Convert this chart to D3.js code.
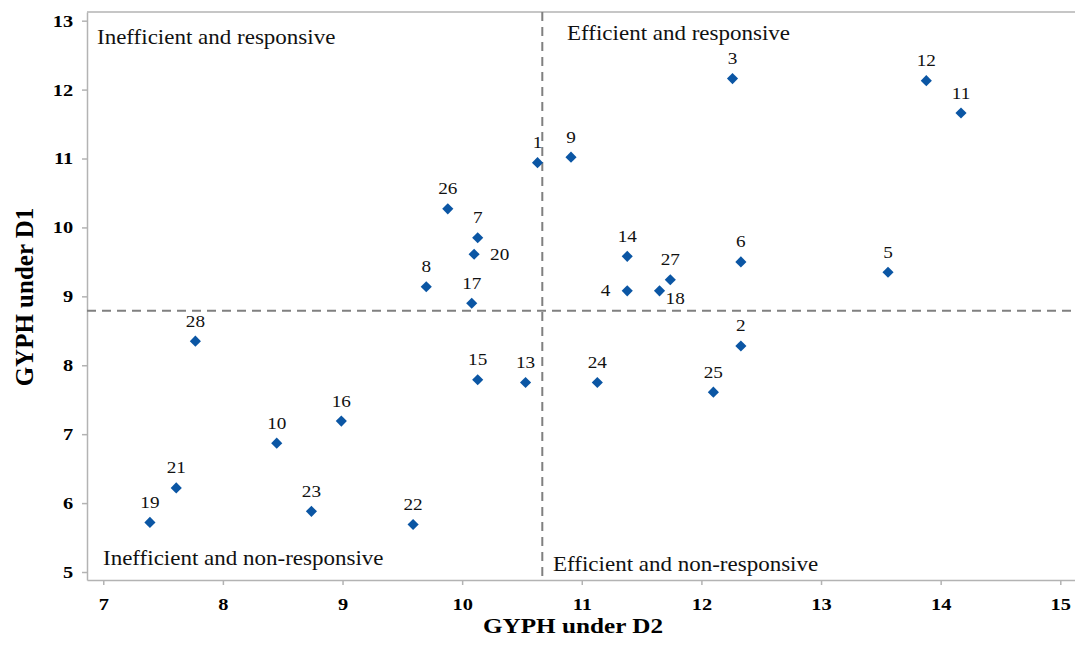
<!DOCTYPE html>
<html>
<head>
<meta charset="utf-8">
<script src="https://cdn.jsdelivr.net/npm/d3@7"></script>
<style>
  body { margin: 0; background: #fff; }
  svg { display: block; }
  .axis path, .axis line { stroke: #b3b3b3; stroke-width: 1.5; }
  .axis text { font-family: "Liberation Serif", "Times New Roman", serif; font-weight: bold; font-size: 17px; fill: #000; }
  .title { font-family: "Liberation Serif", "Times New Roman", serif; font-weight: bold; fill: #000; }
  .quad { font-family: "Liberation Serif", "Times New Roman", serif; font-size: 20px; fill: #111; }
  .lbl { font-family: "Liberation Serif", "Times New Roman", serif; font-size: 16px; fill: #111; }
</style>
</head>
<body>
<div id="chart"></div>
<script>
// GYPH quadrant scatter (D2 vs D1)
var ids = [1, 2, 3, 4, 5, 6, 7, 8, 9, 10, 11, 12, 13, 14, 15, 16, 17, 18, 19, 20, 21, 22, 23, 24, 25, 26, 27, 28];
var gyphD2 = [10.63, 12.33, 12.26, 11.38, 13.56, 12.33, 10.13, 9.70, 10.91, 8.45, 14.17, 13.88, 10.53, 11.38,
              10.13, 8.99, 10.08, 11.65, 7.39, 10.10, 7.61, 9.59, 8.74, 11.13, 12.10, 9.88, 11.74, 7.77];
var gyphD1 = [10.94, 8.28, 12.16, 9.08, 9.35, 9.50, 9.85, 9.14, 11.02, 6.87, 11.66, 12.13, 7.75, 9.58,
              7.79, 7.19, 8.90, 9.08, 5.72, 9.61, 6.22, 5.69, 5.88, 7.75, 7.61, 10.27, 9.24, 8.35];
var xTicks = [7, 8, 9, 10, 11, 12, 13, 14, 15];
var yTicks = [5, 6, 7, 8, 9, 10, 11, 12, 13];
var meanD2 = 10.67, meanD1 = 8.79;
var quadrants = ["Inefficient and responsive", "Efficient and responsive",
                 "Inefficient and non-responsive", "Efficient and non-responsive"];

(function () {
var W = 1075, H = 645;
var plotL = 87, plotR = 1075, plotT = 12, plotB = 580;
var wide = 1.2; // the source picture is a bit stretched sideways

var x = d3.scaleLinear().domain([6.864, 15.123]).range([plotL, plotR]);
var y = d3.scaleLinear().domain([4.884, 13.126]).range([plotB, plotT]);

var svg = d3.select("#chart").append("svg")
    .attr("width", W)
    .attr("height", H);

function put(px, py) {
  return "translate(" + px + "," + py + ") scale(" + wide + ",1)";
}

// frame top line
svg.append("line")
    .attr("x1", plotL).attr("x2", plotR)
    .attr("y1", plotT).attr("y2", plotT)
    .attr("stroke", "#b3b3b3").attr("stroke-width", 1.5);

var xAxisG = svg.append("g")
    .attr("class", "axis")
    .attr("transform", "translate(0," + plotB + ")")
    .call(d3.axisBottom(x).tickValues(xTicks).tickSize(5).tickPadding(13).tickSizeOuter(0));
xAxisG.selectAll("text").attr("transform", "scale(" + wide + ",1)");

var yAxisG = svg.append("g")
    .attr("class", "axis")
    .attr("transform", "translate(" + plotL + ",0)")
    .call(d3.axisLeft(y).tickValues(yTicks).tickSize(5).tickPadding(6.5).tickSizeOuter(0));
yAxisG.selectAll("text").attr("transform", "scale(" + wide + ",1)");

// mean dividers
svg.append("line")
    .attr("x1", x(meanD2)).attr("x2", x(meanD2))
    .attr("y1", plotT).attr("y2", plotB)
    .attr("stroke", "#808080").attr("stroke-width", 2).attr("stroke-dasharray", "9,6");
svg.append("line")
    .attr("x1", plotL).attr("x2", plotR)
    .attr("y1", y(meanD1)).attr("y2", y(meanD1))
    .attr("stroke", "#808080").attr("stroke-width", 2).attr("stroke-dasharray", "9,6");

// quadrant captions
var quadPos = [[97, 44], [567, 40], [103, 565], [553, 571]];
svg.selectAll(".quad")
    .data(quadrants)
  .enter().append("text")
    .attr("class", "quad")
    .attr("transform", function(d, i) { return "translate(" + quadPos[i][0] + "," + quadPos[i][1] + ") scale(1.15,1)"; })
    .text(function(d) { return d; });

var data = ids.map(function(id, i) { return {id: id, d2: gyphD2[i], d1: gyphD1[i]}; });

svg.selectAll(".pt")
    .data(data)
  .enter().append("path")
    .attr("class", "pt")
    .attr("d", d3.symbol(d3.symbolSquare, 62))
    .attr("fill", "#0b56a4")
    .attr("transform", function(d) {
      return "translate(" + x(d.d2) + "," + y(d.d1) + ") rotate(45)";
    });

// a few labels sit beside the point instead of above it
var labelSide = {20: "right", 4: "left", 18: "below"};

svg.selectAll(".lbl")
    .data(data)
  .enter().append("text")
    .attr("class", "lbl")
    .attr("transform", function(d) {
      var s = labelSide[d.id], px = x(d.d2), py = y(d.d1);
      if (s === "right") return put(px + 16, py + 6);
      if (s === "left") return put(px - 17, py + 5);
      if (s === "below") return put(px + 6, py + 13.5);
      return put(px, py - 14.5);
    })
    .attr("text-anchor", function(d) {
      var s = labelSide[d.id];
      if (s === "right" || s === "below") return "start";
      if (s === "left") return "end";
      return "middle";
    })
    .text(function(d) { return d.id; });

svg.append("text")
    .attr("class", "title")
    .attr("transform", put(573, 633))
    .attr("font-size", "21px")
    .attr("text-anchor", "middle")
    .text("GYPH under D2");

svg.append("text")
    .attr("class", "title")
    .attr("transform", "translate(33,297) rotate(-90)")
    .attr("font-size", "25px")
    .attr("text-anchor", "middle")
    .text("GYPH under D1");
})();
</script>
</body>
</html>
